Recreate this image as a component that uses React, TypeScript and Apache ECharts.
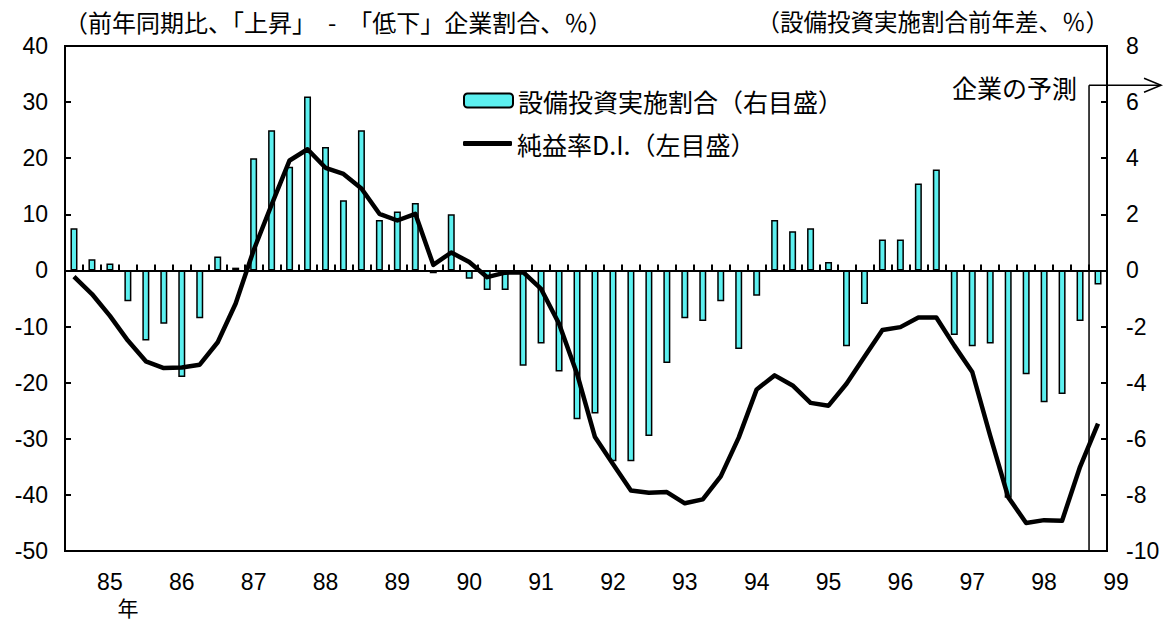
import React, { useEffect, useRef } from "react";
import * as echarts from "echarts";

// Quarterly categories (84Q3 .. 98Q4); year labels sit on Q1 of each year
const quarters: string[] = [
  "84Q3", "84Q4",
  "85Q1", "85Q2", "85Q3", "85Q4",
  "86Q1", "86Q2", "86Q3", "86Q4",
  "87Q1", "87Q2", "87Q3", "87Q4",
  "88Q1", "88Q2", "88Q3", "88Q4",
  "89Q1", "89Q2", "89Q3", "89Q4",
  "90Q1", "90Q2", "90Q3", "90Q4",
  "91Q1", "91Q2", "91Q3", "91Q4",
  "92Q1", "92Q2", "92Q3", "92Q4",
  "93Q1", "93Q2", "93Q3", "93Q4",
  "94Q1", "94Q2", "94Q3", "94Q4",
  "95Q1", "95Q2", "95Q3", "95Q4",
  "96Q1", "96Q2", "96Q3", "96Q4",
  "97Q1", "97Q2", "97Q3", "97Q4",
  "98Q1", "98Q2", "98Q3", "98Q4",
];

const yearLabels: string[] = [
  "85", "86", "87", "88", "89", "90", "91", "92", "93", "94", "95", "96", "97", "98", "99",
];

// 設備投資実施割合 前年差 (right axis, %)
const capexShare: number[] = [
  1.5, 0.4, 0.25, -1.1, -2.5, -1.9, -3.8, -1.7, 0.5, 0.1,
  4.0, 5.0, 3.7, 6.2, 4.4, 2.5, 5.0, 1.8, 2.1, 2.4,
  -0.1, 2.0, -0.3, -0.7, -0.7, -3.4, -2.6, -3.6, -5.3, -5.1,
  -6.8, -6.8, -5.9, -3.3, -1.7, -1.8, -1.1, -2.8, -0.9, 1.8,
  1.4, 1.5, 0.3, -2.7, -1.2, 1.1, 1.1, 3.1, 3.6, -2.3,
  -2.7, -2.6, -8.1, -3.7, -4.7, -4.4, -1.8, -0.5,
];

// 純益率D.I. (left axis)
const profitDI: number[] = [
  -1.1, -4.2, -8.1, -12.5, -16.2, -17.4, -17.3, -16.8, -12.8, -5.9,
  3.6, 11.7, 19.6, 21.6, 18.3, 17.2, 14.6, 10.1, 8.9, 10.1,
  1.0, 3.2, 1.5, -1.2, -0.4, -0.3, -3.3, -9.5, -18.4, -29.7,
  -34.5, -39.2, -39.6, -39.5, -41.5, -40.8, -36.7, -29.8, -21.2, -18.7,
  -20.5, -23.6, -24.1, -20.2, -15.4, -10.6, -10.1, -8.4, -8.4, -13.4,
  -18.1, -29.5, -40.4, -45.0, -44.5, -44.6, -35.0, -27.3,
];

const barName = "設備投資実施割合（右目盛）";
const lineName = "純益率D.I.（左目盛）";
const leftTitle = "（前年同期比、「上昇」\u2002-\u2002「低下」企業割合、％）";
const rightTitle = "（設備投資実施割合前年差、％）";
const forecastLabel = "企業の予測";
const forecastIndex = 57;
const forecastArrowLevel = 6.6;

const FONT = "'Liberation Sans', Arial, 'Noto Sans CJK JP', sans-serif";
const CJK = "'Noto Sans CJK JP', 'Liberation Sans', sans-serif";
const BAR_COLOR = "#5cf0f0";

export default function App() {
  const ref = useRef<HTMLDivElement>(null);

  useEffect(() => {
    document.body.style.margin = "0";
    if (!ref.current) return;
    const chart = echarts.init(ref.current, null, { renderer: "svg" });

    const axisLine = { show: true, lineStyle: { color: "#000", width: 2 } };
    const tickStyle = { color: "#000", width: 2 };

    chart.setOption({
      animation: false,
      backgroundColor: "#fff",
      grid: {
        left: 65,
        right: 62,
        top: 46,
        bottom: 70,
        show: true,
        borderColor: "#000",
        borderWidth: 2,
        backgroundColor: "transparent",
      },
      legend: [
        {
          data: [{ name: barName, itemStyle: { color: BAR_COLOR, borderColor: "#000", borderWidth: 2 } }],
          left: 458,
          top: 83,
          itemWidth: 49,
          itemHeight: 14,
          selectedMode: false,
          textStyle: { fontSize: 25, fontFamily: CJK, color: "#000" },
        },
        {
          data: [{ name: lineName, icon: "roundRect" }],
          left: 458,
          top: 126,
          itemWidth: 49,
          itemHeight: 5,
          selectedMode: false,
          itemStyle: { color: "#000" },
          textStyle: { fontSize: 25, fontFamily: CJK, color: "#000" },
        },
      ],
      xAxis: {
        type: "category",
        data: quarters,
        boundaryGap: true,
        axisLine,
        axisTick: {
          show: true,
          inside: true,
          length: 6,
          interval: 0,
          lineStyle: tickStyle,
        },
        axisLabel: {
          interval: 0,
          margin: 18,
          fontSize: 23,
          lineHeight: 25,
          color: "#000",
          fontFamily: FONT,
          formatter: (_v: string, i: number) => {
            if (i === forecastIndex) return "{s|" + yearLabels[yearLabels.length - 1] + "}";
            if (i % 4 === 2) {
              const y = yearLabels[(i - 2) / 4];
              if (i === 2) return y + "\n{n|年}";
              return y;
            }
            return "";
          },
          rich: {
            n: { fontSize: 21, fontFamily: CJK, color: "#000", padding: [0, 0, 0, 36], lineHeight: 25 },
            s: { fontSize: 23, fontFamily: FONT, color: "#000", padding: [0, 0, 0, 36] },
          },
        },
        splitLine: { show: false },
      },
      yAxis: [
        {
          type: "value",
          min: -50,
          max: 40,
          interval: 10,
          position: "left",
          axisLine,
          axisTick: { show: true, inside: true, length: 6, lineStyle: tickStyle },
          splitLine: { show: false },
          axisLabel: { fontSize: 23, margin: 17, color: "#000", fontFamily: FONT },
        },
        {
          type: "value",
          min: -10,
          max: 8,
          interval: 2,
          position: "right",
          axisLine,
          axisTick: { show: true, inside: true, length: 6, lineStyle: tickStyle },
          splitLine: { show: false },
          axisLabel: { fontSize: 23, margin: 19, color: "#000", fontFamily: FONT },
        },
      ],
      series: [
        {
          name: barName,
          type: "bar",
          yAxisIndex: 1,
          data: capexShare,
          barWidth: 7,
          itemStyle: {
            color: BAR_COLOR,
            borderColor: "#000",
            borderWidth: 1.5,
          },
          markLine: {
            silent: true,
            symbol: "none",
            label: { show: false },
            lineStyle: { color: "#000", width: 2, type: "solid" },
            data: [{ yAxis: 0 }],
          },
          z: 2,
        },
        {
          name: lineName,
          type: "line",
          yAxisIndex: 0,
          data: profitDI,
          symbol: "none",
          showSymbol: false,
          lineStyle: { color: "#000", width: 4.5, join: "round" },
          itemStyle: { color: "#000" },
          z: 5,
        },
      ],
    });

    const xa = chart.convertToPixel({ xAxisIndex: 0 }, forecastIndex - 1) as number;
    const xb = chart.convertToPixel({ xAxisIndex: 0 }, forecastIndex) as number;
    const bx = (xa + xb) / 2;
    const yTop = chart.convertToPixel({ yAxisIndex: 1 }, forecastArrowLevel) as number;
    const yBot = chart.convertToPixel({ yAxisIndex: 1 }, -10) as number;
    const arrowEnd = bx + 72;

    chart.setOption({
      graphic: [
        {
          type: "text",
          left: 64,
          top: 9,
          style: { text: leftTitle, fontSize: 24, fontFamily: CJK, fill: "#000" },
        },
        {
          type: "text",
          right: 60,
          top: 9,
          style: { text: rightTitle, fontSize: 23.5, fontFamily: CJK, fill: "#000" },
        },
        {
          type: "line",
          shape: { x1: bx, y1: yTop, x2: bx, y2: yBot },
          style: { stroke: "#000", lineWidth: 1.5 },
          z: 10,
        },
        {
          type: "line",
          shape: { x1: bx, y1: yTop, x2: arrowEnd, y2: yTop },
          style: { stroke: "#000", lineWidth: 1.5 },
          z: 10,
        },
        {
          type: "polyline",
          shape: { points: [[arrowEnd - 17, yTop - 7], [arrowEnd, yTop], [arrowEnd - 17, yTop + 7]] },
          style: { stroke: "#000", lineWidth: 1.5, fill: null },
          z: 10,
        },
        {
          type: "text",
          x: bx - 12,
          y: yTop + 2,
          style: {
            text: forecastLabel,
            fontSize: 25,
            fontFamily: CJK,
            fill: "#000",
            align: "right",
            verticalAlign: "middle",
          },
          z: 10,
        },
      ],
    });

    return () => chart.dispose();
  }, []);

  return (
    <div
      ref={ref}
      style={{ width: 1169, height: 621, position: "absolute", left: 0, top: 0 }}
    />
  );
}
